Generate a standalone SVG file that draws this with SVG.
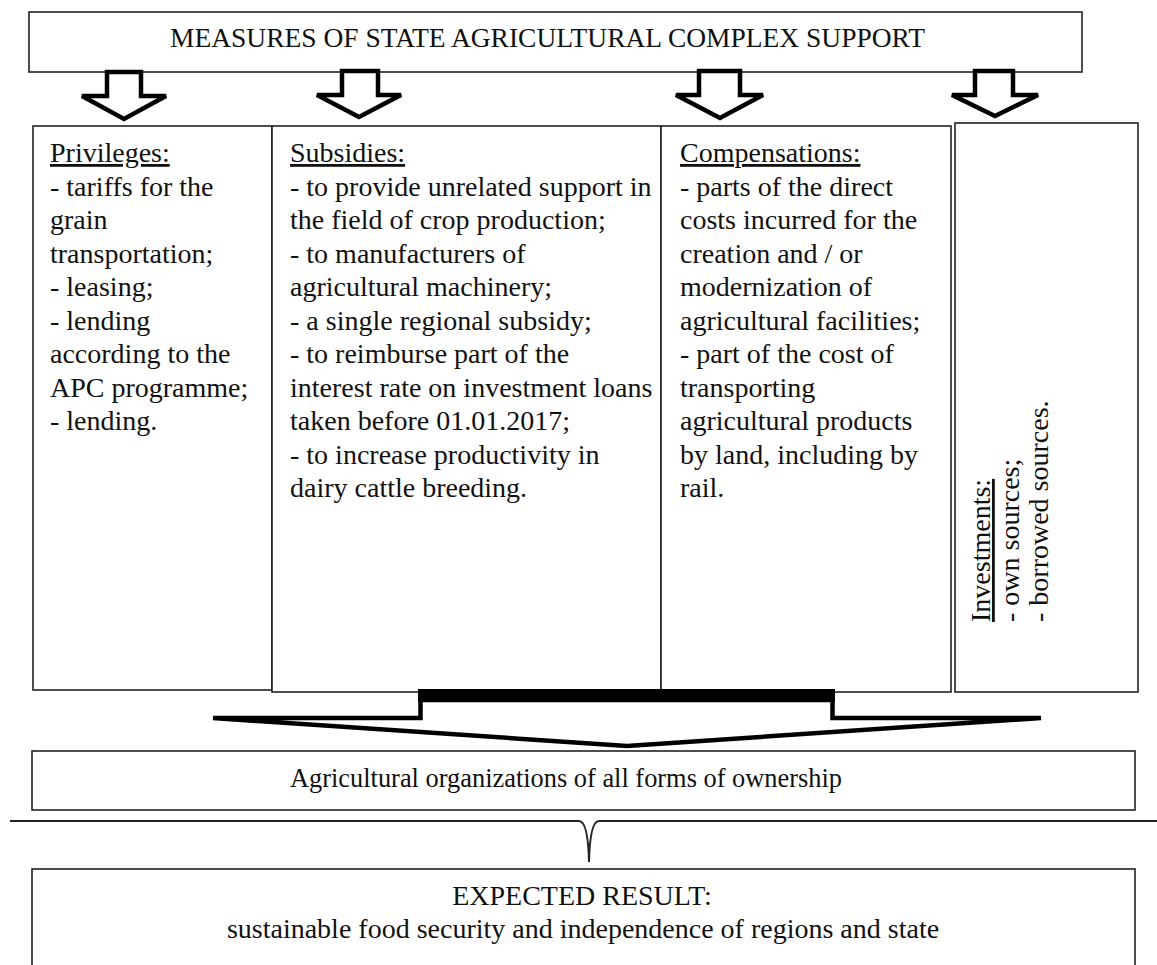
<svg xmlns="http://www.w3.org/2000/svg" width="1157" height="965" viewBox="0 0 1157 965">
<style>
.box{fill:#fff;stroke:#222;stroke-width:1.6}
.t{font-family:"Liberation Serif","Times New Roman",serif;font-size:28px;fill:#111}
.c{text-anchor:middle}
.u{text-decoration:underline}
.arr{fill:#fff;stroke:#000;stroke-width:4.5;stroke-linejoin:miter}
.ln{fill:none;stroke:#222;stroke-width:2}
</style>
<rect width="1157" height="965" fill="#fff"/>
<g id="title">
<rect class="box" x="29" y="12" width="1053" height="60"/>
<text class="t" x="170" y="47" style="font-size:27px" textLength="755" lengthAdjust="spacingAndGlyphs">MEASURES OF STATE AGRICULTURAL COMPLEX SUPPORT</text>
</g>
<g id="connectors">
<polygon class="arr" points="107,72 107,96 82,96 124,119 166,96 141,96 141,72"/>
<polygon class="arr" points="342,71 342,95 317,95 359,117 401,95 378,95 378,71"/>
<polygon class="arr" points="699,71 699,95 676,95 720,118 763,95 740,95 740,71"/>
<polygon class="arr" points="975,71 975,95 952,95 995,116 1038,95 1013,95 1013,71"/>
<path class="ln" d="M10,821 H579 Q588,821 589,862 Q590,821 599,821 H1157"/>
</g>
<g id="privileges">
<rect class="box" x="33" y="126" width="239" height="564"/>
<text class="t" x="50" y="162"><tspan class="u">Privileges:</tspan>
<tspan x="50" dy="33.5">- tariffs for the</tspan>
<tspan x="50" dy="33.5">grain</tspan>
<tspan x="50" dy="33.5">transportation;</tspan>
<tspan x="50" dy="33.5">- leasing;</tspan>
<tspan x="50" dy="33.5">- lending</tspan>
<tspan x="50" dy="33.5">according to the</tspan>
<tspan x="50" dy="33.5">APC programme;</tspan>
<tspan x="50" dy="33.5">- lending.</tspan></text>
</g>
<g id="subsidies">
<rect class="box" x="272" y="126" width="389" height="566"/>
<text class="t" x="290" y="162"><tspan class="u">Subsidies:</tspan>
<tspan x="290" dy="33.5">- to provide unrelated support in</tspan>
<tspan x="290" dy="33.5">the field of crop production;</tspan>
<tspan x="290" dy="33.5">- to manufacturers of</tspan>
<tspan x="290" dy="33.5">agricultural machinery;</tspan>
<tspan x="290" dy="33.5">- a single regional subsidy;</tspan>
<tspan x="290" dy="33.5">- to reimburse part of the</tspan>
<tspan x="290" dy="33.5">interest rate on investment loans</tspan>
<tspan x="290" dy="33.5">taken before 01.01.2017;</tspan>
<tspan x="290" dy="33.5">- to increase productivity in</tspan>
<tspan x="290" dy="33.5">dairy cattle breeding.</tspan></text>
</g>
<g id="compensations">
<rect class="box" x="661" y="126" width="290" height="566"/>
<text class="t" x="680" y="162"><tspan class="u">Compensations:</tspan>
<tspan x="680" dy="33.5">- parts of the direct</tspan>
<tspan x="680" dy="33.5">costs incurred for the</tspan>
<tspan x="680" dy="33.5">creation and / or</tspan>
<tspan x="680" dy="33.5">modernization of</tspan>
<tspan x="680" dy="33.5">agricultural facilities;</tspan>
<tspan x="680" dy="33.5">- part of the cost of</tspan>
<tspan x="680" dy="33.5">transporting</tspan>
<tspan x="680" dy="33.5">agricultural products</tspan>
<tspan x="680" dy="33.5">by land, including by</tspan>
<tspan x="680" dy="33.5">rail.</tspan></text>
</g>
<g id="investments">
<rect class="box" x="955" y="123" width="183" height="569"/>
<text class="t" transform="translate(990,622) rotate(-90)"><tspan class="u" x="0" y="0">Investments:</tspan>
<tspan x="0" dy="29">- own sources;</tspan>
<tspan x="0" dy="29">- borrowed sources.</tspan></text>
</g>
<g id="merge-arrow">
<polygon class="arr" points="420.5,700 420.5,718 213,718 627,746 1041,718 832.5,718 832.5,700"/>
<rect x="418" y="689" width="417" height="13" fill="#000"/>
</g>
<g id="organizations">
<rect class="box" x="32" y="751" width="1103" height="59"/>
<text class="t c" x="566" y="787" textLength="552" lengthAdjust="spacingAndGlyphs">Agricultural organizations of all forms of ownership</text>
</g>
<g id="result">
<rect class="box" x="32" y="869" width="1103" height="110"/>
<text class="t c" x="582" y="905">EXPECTED RESULT:</text>
<text class="t c" x="583" y="938">sustainable food security and independence of regions and state</text>
</g>
</svg>
